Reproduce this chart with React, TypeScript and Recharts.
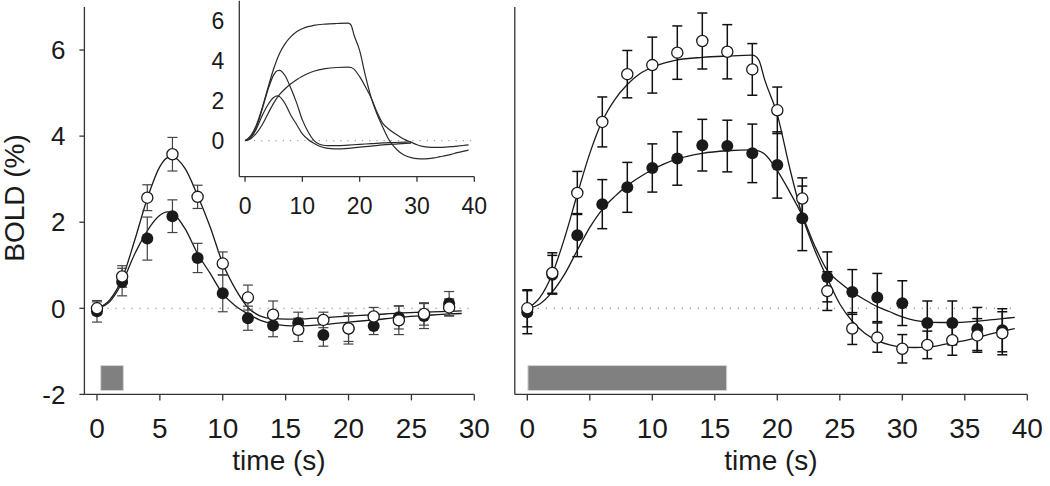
import React from "react";
import {
  ComposedChart,
  Line,
  Scatter,
  ErrorBar,
  XAxis,
  YAxis,
  ReferenceLine,
  ReferenceArea,
  Label,
} from "recharts";

// tick labels
const boldTicks = [-2, 0, 2, 4, 6];
const shortTimeTicks = [0, 5, 10, 15, 20, 25, 30];
const longTimeTicks = [0, 5, 10, 15, 20, 25, 30, 35, 40];
const insetTimeTicks = [0, 10, 20, 30, 40];
const insetBoldTicks = [0, 2, 4, 6];

// short stimulus (left panel) – measured points
const shortTimes = [0, 2, 4, 6, 8, 10, 12, 14, 16, 18, 20, 22, 24, 26, 28];
const shortOpen = [0.0, 0.74, 2.57, 3.58, 2.59, 1.04, 0.25, -0.15, -0.5, -0.27, -0.47, -0.19, -0.28, -0.13, 0.02];
const shortOpenErr = [0.15, 0.25, 0.3, 0.39, 0.27, 0.27, 0.29, 0.32, 0.27, 0.18, 0.36, 0.21, 0.33, 0.26, 0.2];
const shortFilled = [-0.07, 0.61, 1.62, 2.14, 1.17, 0.35, -0.23, -0.4, -0.34, -0.62, -0.47, -0.41, -0.21, -0.18, 0.11];
const shortFilledErr = [0.25, 0.32, 0.5, 0.38, 0.34, 0.43, 0.28, 0.26, 0.25, 0.26, 0.3, 0.2, 0.27, 0.29, 0.28];

// long stimulus (right panel) – measured points
const longTimes = [0, 2, 4, 6, 8, 10, 12, 14, 16, 18, 20, 22, 24, 26, 28, 30, 32, 34, 36, 38];
const longOpen = [0.0, 0.82, 2.68, 4.33, 5.44, 5.65, 5.94, 6.21, 5.96, 5.55, 4.6, 2.55, 0.4, -0.47, -0.68, -0.94, -0.85, -0.74, -0.63, -0.58];
const longOpenErr = [0.43, 0.47, 0.5, 0.58, 0.55, 0.65, 0.62, 0.65, 0.63, 0.6, 0.54, 0.48, 0.45, 0.37, 0.34, 0.33, 0.32, 0.35, 0.39, 0.5];
const longFilled = [-0.09, 0.78, 1.7, 2.42, 2.81, 3.26, 3.48, 3.79, 3.77, 3.6, 3.33, 2.09, 0.73, 0.38, 0.25, 0.12, -0.34, -0.34, -0.48, -0.51];
const longFilledErr = [0.5, 0.45, 0.5, 0.57, 0.58, 0.56, 0.62, 0.6, 0.6, 0.68, 0.77, 0.75, 0.58, 0.52, 0.56, 0.52, 0.51, 0.51, 0.5, 0.5];

// fitted responses
const shortFitTimes = [0, 1, 2, 3, 4, 5, 5.6, 6, 7, 8, 9, 10, 11, 12, 13, 14, 15, 16, 18, 20, 22, 24, 26, 28, 29];
const shortOpenFit = [0, 0.19, 0.69, 1.58, 2.55, 3.29, 3.5, 3.52, 3.25, 2.62, 1.89, 1.04, 0.45, 0.02, -0.18, -0.24, -0.25, -0.25, -0.22, -0.18, -0.15, -0.11, -0.09, -0.07, -0.06];
const shortFilledFit = [0, 0.15, 0.6, 1.26, 1.8, 2.16, 2.24, 2.21, 1.85, 1.27, 0.81, 0.34, 0.06, -0.13, -0.28, -0.36, -0.4, -0.41, -0.38, -0.32, -0.27, -0.21, -0.17, -0.13, -0.12];

const longFitTimes = [0, 1, 2, 3, 4, 5, 6, 7, 8, 9, 10, 11, 12, 14, 16, 18, 18.5, 19, 20, 21, 22, 23, 24, 25, 26, 27, 28, 29, 30, 31, 32, 33, 34, 35, 36, 37, 38, 39];
const longOpenFit = [0, 0.25, 0.8, 1.65, 2.65, 3.6, 4.35, 4.85, 5.2, 5.45, 5.6, 5.7, 5.77, 5.83, 5.86, 5.88, 5.78, 5.3, 4.5, 3.25, 2.15, 1.35, 0.7, 0.1, -0.3, -0.58, -0.75, -0.85, -0.9, -0.91, -0.9, -0.86, -0.8, -0.75, -0.68, -0.6, -0.53, -0.47];
const longFilledFit = [0, 0.1, 0.38, 0.8, 1.35, 1.88, 2.3, 2.6, 2.85, 3.05, 3.22, 3.36, 3.47, 3.6, 3.66, 3.68, 3.66, 3.58, 3.2, 2.7, 2.15, 1.45, 0.88, 0.6, 0.38, 0.2, 0.04, -0.08, -0.2, -0.28, -0.32, -0.33, -0.33, -0.32, -0.3, -0.27, -0.24, -0.21];

// stimulus periods (s)
const shortStim = [0.3, 2.1];
const longStim = [0.05, 15.95];

const FONT = '"Liberation Sans", Arial, Helvetica, sans-serif';
const INK = "#1a1a1a";

const toRows = (times: number[], vals: number[], errs?: number[]) =>
  times.map((t, i) => ({ t, v: vals[i], err: errs ? errs[i] : 0 }));

const OpenDot = (p: any) => (
  <circle cx={p.cx} cy={p.cy} r={5.6} fill="#fff" stroke={INK} strokeWidth={1.3} />
);
const FilledDot = (p: any) => <circle cx={p.cx} cy={p.cy} r={6} fill={INK} />;

const axisStroke = { stroke: "#333", strokeWidth: 1.3 };

const layer: React.CSSProperties = { position: "absolute", left: 0, top: 0 };

function TimeLabel({ x }: { x: number }) {
  return (
    <text x={x} y={470} textAnchor="middle" fontSize={28} fontFamily={FONT} fill={INK}>
      time (s)
    </text>
  );
}

function Panel(props: {
  margin: { top: number; right: number; bottom: number; left: number };
  xMax: number;
  xTicks: number[];
  showYTicks: boolean;
  fitTimes: number[];
  openFit: number[];
  filledFit: number[];
  times: number[];
  open: number[];
  openErr: number[];
  filled: number[];
  filledErr: number[];
  stim: number[];
  zeroEnd: number;
  errColor: string;
  errWidth: number;
  labelX: number;
}) {
  const xTickStyle = { fontSize: 28, fontFamily: FONT, fill: INK };
  const yTickStyle = { fontSize: 26, fontFamily: FONT, fill: INK };
  return (
    <ComposedChart width={1050} height={486} margin={props.margin}>
      <XAxis
        type="number"
        dataKey="t"
        domain={[-1, props.xMax]}
        ticks={props.xTicks}
        interval={0}
        axisLine={axisStroke}
        tickLine={axisStroke}
        tickSize={6}
        tickMargin={18}
        tick={xTickStyle}
        height={60}
      >
        <Label content={() => <TimeLabel x={props.labelX} />} />
      </XAxis>
      <YAxis
        type="number"
        domain={[-2, 7]}
        ticks={boldTicks}
        interval={0}
        axisLine={axisStroke}
        tickLine={axisStroke}
        tickSize={5}
        tickMargin={14}
        tick={props.showYTicks ? yTickStyle : false}
        width={60}
      >
        {props.showYTicks && (
          <Label
            content={() => (
              <text
                x={23.5}
                y={198}
                transform="rotate(-90 23.5 198)"
                textAnchor="middle"
                fontSize={28}
                fontFamily={FONT}
                fill={INK}
              >
                BOLD (%)
              </text>
            )}
          />
        )}
      </YAxis>
      <ReferenceLine
        segment={[
          { x: 0.2, y: 0 },
          { x: props.zeroEnd, y: 0 },
        ]}
        stroke="#777"
        strokeWidth={1.1}
        strokeDasharray="1.2 6.8"
      />
      <ReferenceArea
        x1={props.stim[0]}
        x2={props.stim[1]}
        y1={-1.91}
        y2={-1.33}
        fill="#808080"
        fillOpacity={1}
        stroke="#d4d4d4"
        strokeWidth={1}
      />
      <Line
        data={toRows(props.fitTimes, props.openFit)}
        dataKey="v"
        type="monotone"
        dot={false}
        stroke={INK}
        strokeWidth={1.3}
        isAnimationActive={false}
      />
      <Line
        data={toRows(props.fitTimes, props.filledFit)}
        dataKey="v"
        type="monotone"
        dot={false}
        stroke={INK}
        strokeWidth={1.3}
        isAnimationActive={false}
      />
      <Scatter
        data={toRows(props.times, props.filled, props.filledErr)}
        dataKey="v"
        shape={FilledDot}
        isAnimationActive={false}
      >
        <ErrorBar
          dataKey="err"
          direction="y"
          width={5}
          stroke={props.errColor}
          strokeWidth={props.errWidth}
          isAnimationActive={false}
        />
      </Scatter>
      <Scatter
        data={toRows(props.times, props.open, props.openErr)}
        dataKey="v"
        shape={OpenDot}
        isAnimationActive={false}
      >
        <ErrorBar
          dataKey="err"
          direction="y"
          width={5}
          stroke={props.errColor}
          strokeWidth={props.errWidth}
          isAnimationActive={false}
        />
      </Scatter>
    </ComposedChart>
  );
}

function Inset() {
  const tickStyle = { fontSize: 23, fontFamily: FONT, fill: INK };
  const fit = (times: number[], vals: number[]) => (
    <Line
      data={toRows(times, vals)}
      dataKey="v"
      type="monotone"
      dot={false}
      stroke="#2a2a2a"
      strokeWidth={1.2}
      isAnimationActive={false}
    />
  );
  return (
    <ComposedChart
      width={1050}
      height={486}
      margin={{ top: 0.7, right: 575.7, bottom: 269.3, left: 199.3 }}
    >
      <XAxis
        type="number"
        dataKey="t"
        domain={[-1, 40]}
        ticks={insetTimeTicks}
        interval={0}
        axisLine={axisStroke}
        tickLine={axisStroke}
        tickSize={5}
        tickMargin={16}
        tick={tickStyle}
        height={40}
      />
      <YAxis
        type="number"
        domain={[-1.8, 7]}
        ticks={insetBoldTicks}
        interval={0}
        axisLine={axisStroke}
        tickLine={false}
        tickSize={0}
        tickMargin={15}
        tick={tickStyle}
        width={40}
      />
      <ReferenceLine
        segment={[
          { x: 0.3, y: 0 },
          { x: 39.5, y: 0 },
        ]}
        stroke="#888"
        strokeWidth={1}
        strokeDasharray="1.2 6"
      />
      {fit(longFitTimes, longOpenFit)}
      {fit(longFitTimes, longFilledFit)}
      {fit(shortFitTimes, shortOpenFit)}
      {fit(shortFitTimes, shortFilledFit)}
    </ComposedChart>
  );
}

export default function App() {
  return (
    <div
      style={{
        position: "absolute",
        left: 0,
        top: 0,
        width: 1050,
        height: 486,
        background: "#fff",
        overflow: "hidden",
      }}
    >
      <div style={layer}>
        <Panel
          margin={{ top: 7, right: 575.7, bottom: 31.6, left: 24.4 }}
          xMax={30}
          xTicks={shortTimeTicks}
          showYTicks={true}
          fitTimes={shortFitTimes}
          openFit={shortOpenFit}
          filledFit={shortFilledFit}
          times={shortTimes}
          open={shortOpen}
          openErr={shortOpenErr}
          filled={shortFilled}
          filledErr={shortFilledErr}
          stim={shortStim}
          zeroEnd={30}
          errColor="#444"
          errWidth={1.2}
          labelX={279}
        />
      </div>
      <div style={layer}>
        <Panel
          margin={{ top: 7, right: 22.7, bottom: 31.6, left: 454.8 }}
          xMax={40}
          xTicks={longTimeTicks}
          showYTicks={false}
          fitTimes={longFitTimes}
          openFit={longOpenFit}
          filledFit={longFilledFit}
          times={longTimes}
          open={longOpen}
          openErr={longOpenErr}
          filled={longFilled}
          filledErr={longFilledErr}
          stim={longStim}
          zeroEnd={39.2}
          errColor="#111"
          errWidth={1.5}
          labelX={771}
        />
      </div>
      <div style={layer}>
        <Inset />
      </div>
    </div>
  );
}
